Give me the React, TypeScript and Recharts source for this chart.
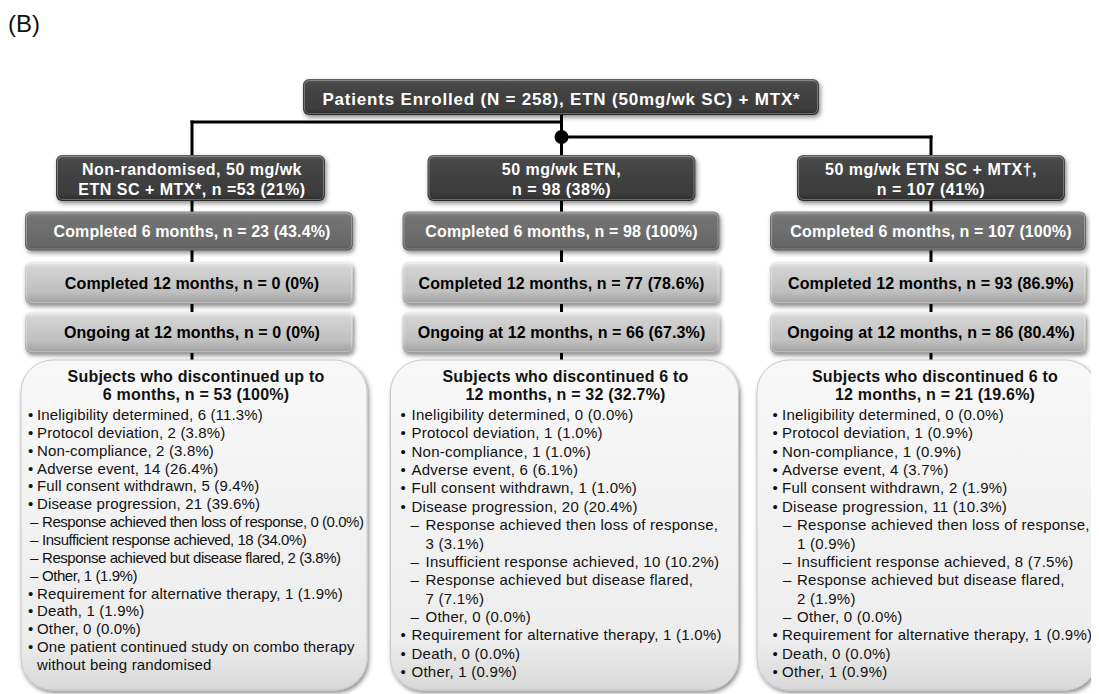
import React from 'react';
import { ScatterChart, Scatter, XAxis, YAxis, ReferenceLine, ReferenceDot } from 'recharts';

const FONT = '"Liberation Sans", Arial, Helvetica, sans-serif';

// ---- data ----
const COLUMNS = [0, 1, 2];

const ENROLLED_N = 258;

const ARM_TITLE = [
  ['Non-randomised, 50 mg/wk', 'ETN SC + MTX*, n ='],
  ['50 mg/wk ETN,', 'n = '],
  ['50 mg/wk ETN SC + MTX†,', 'n = '],
];
const ARM_N = [53, 98, 107];
const ARM_PCT = ['21', '38', '41'];

const COMPLETED6_N = [23, 98, 107];
const COMPLETED6_PCT = ['43.4', '100', '100'];

const COMPLETED12_N = [0, 77, 93];
const COMPLETED12_PCT = ['0', '78.6', '86.9'];

const ONGOING_N = [0, 66, 86];
const ONGOING_PCT = ['0', '67.3', '80.4'];

const DISC_WINDOW = [['up to', '6 months'], ['6 to', '12 months'], ['6 to', '12 months']];
const DISC_N = [53, 32, 21];
const DISC_PCT = ['100', '32.7', '19.6'];

const REASONS = [
  'Ineligibility determined',
  'Protocol deviation',
  'Non-compliance',
  'Adverse event',
  'Full consent withdrawn',
  'Disease progression',
  'Requirement for alternative therapy',
  'Death',
  'Other',
];
const REASON_N = [
  [6, 2, 2, 14, 5, 21, 1, 1, 0],
  [0, 1, 1, 6, 1, 20, 1, 0, 1],
  [0, 1, 1, 4, 2, 11, 1, 0, 1],
];
const REASON_PCT = [
  ['11.3', '3.8', '3.8', '26.4', '9.4', '39.6', '1.9', '1.9', '0.0'],
  ['0.0', '1.0', '1.0', '6.1', '1.0', '20.4', '1.0', '0.0', '0.9'],
  ['0.0', '0.9', '0.9', '3.7', '1.9', '10.3', '0.9', '0.0', '0.9'],
];

const SUB_REASONS = [
  'Response achieved then loss of response',
  'Insufficient response achieved',
  'Response achieved but disease flared',
  'Other',
];
const SUB_N = [
  [0, 18, 2, 1],
  [3, 10, 7, 0],
  [1, 8, 2, 0],
];
const SUB_PCT = [
  ['0.0', '34.0', '3.8', '1.9'],
  ['3.1', '10.2', '7.1', '0.0'],
  ['0.9', '7.5', '1.9', '0.0'],
];

const NOTES = [['One patient continued study on combo therapy', 'without being randomised'], [], []];

// ---- layout ----
const W = 1091;
const H = 686;
const STEP_PX = 51.5;
const MARGIN = { top: 170, right: 168, bottom: H - 170 - 3 * STEP_PX, left: 184 };

const ROW_X = [[-167, 161], [-159, 158], [-161, 155]];
const HEAD_X = [[-136, 133], [-134, 134], [-134, 134]];
const SUBJ_X = [[-171, 175], [-171, 177], [-174, 166]];
const VLINE_TOP = [-56, -63, -41];
const VLINE_BOTTOM = 182;
const BUS_LEFT = -56 / STEP_PX;
const BUS_RIGHT = -41 / STEP_PX;

const BULLET_DX = [-164, -161, -158.5];
const TEXT_DX = [-155, -150, -149];
const DASH_DX = [-162, -151, -148];
const SUB_DX = [-150, -136, -134];
const LINE_H = [17.86, 18.36, 18.36];
const ITEM_SPACING = [0.15, 0.25, 0.25];
const WRAP_SUBS = [false, true, true];

const pct = (n: number, p: string) => `${n} (${p}%)`;

type Line = { kind: 'bullet' | 'cont' | 'dash' | 'subcont'; text: string };

function reasonLines(c: number): Line[] {
  const out: Line[] = [];
  REASONS.forEach((r, i) => {
    out.push({ kind: 'bullet', text: `${r}, ${pct(REASON_N[c][i], REASON_PCT[c][i])}` });
    if (i === 5) {
      SUB_REASONS.forEach((s, j) => {
        const v = pct(SUB_N[c][j], SUB_PCT[c][j]);
        if (WRAP_SUBS[c] && s.length > 32) {
          out.push({ kind: 'dash', text: `${s},` });
          out.push({ kind: 'subcont', text: v });
        } else {
          out.push({ kind: 'dash', text: `${s}, ${v}` });
        }
      });
    }
  });
  NOTES[c].forEach((t, k) => out.push({ kind: k === 0 ? 'bullet' : 'cont', text: t }));
  return out;
}

const enrolledData = [{ col: 1, step: 0 }];
const armData = COLUMNS.map((c) => ({ col: c, step: 0 }));
const completed6Data = COLUMNS.map((c) => ({ col: c, step: 1, label: `Completed 6 months, n = ${pct(COMPLETED6_N[c], COMPLETED6_PCT[c])}` }));
const completed12Data = COLUMNS.map((c) => ({ col: c, step: 2, label: `Completed 12 months, n = ${pct(COMPLETED12_N[c], COMPLETED12_PCT[c])}` }));
const ongoingData = COLUMNS.map((c) => ({ col: c, step: 3, label: `Ongoing at 12 months, n = ${pct(ONGOING_N[c], ONGOING_PCT[c])}` }));
const discData = COLUMNS.map((c) => ({ col: c, step: 3 }));

const Defs = () => (
  <defs>
    <linearGradient id="gDark" x1="0" y1="0" x2="0" y2="1">
      <stop offset="0" stopColor="#606060" />
      <stop offset="0.12" stopColor="#474747" />
      <stop offset="0.85" stopColor="#3b3b3b" />
      <stop offset="1" stopColor="#2a2a2a" />
    </linearGradient>
    <linearGradient id="gMid" x1="0" y1="0" x2="0" y2="1">
      <stop offset="0" stopColor="#8e8e8e" />
      <stop offset="0.14" stopColor="#747474" />
      <stop offset="0.85" stopColor="#686868" />
      <stop offset="1" stopColor="#525252" />
    </linearGradient>
    <linearGradient id="gLight" x1="0" y1="0" x2="0" y2="1">
      <stop offset="0" stopColor="#ececec" />
      <stop offset="0.15" stopColor="#d2d2d2" />
      <stop offset="0.7" stopColor="#c0c0c0" />
      <stop offset="1" stopColor="#9e9e9e" />
    </linearGradient>
    <linearGradient id="gSubj" x1="0" y1="0" x2="0" y2="1">
      <stop offset="0" stopColor="#f8f8f8" />
      <stop offset="0.85" stopColor="#ededed" />
      <stop offset="1" stopColor="#d8d8d8" />
    </linearGradient>
    <filter id="shadow" x="-5%" y="-10%" width="112%" height="130%">
      <feDropShadow dx="1.5" dy="2.5" stdDeviation="2" floodColor="#000" floodOpacity="0.45" />
    </filter>
  </defs>
);

function Box({ x, y, w, h, fill, rx = 6 }: any) {
  return (
    <g>
      <rect x={x} y={y} width={w} height={h} rx={rx} fill={fill} filter="url(#shadow)" />
      <rect x={x + 1.5} y={y + 1.5} width={w - 3} height={h - 3} rx={rx - 1} fill="none" stroke="rgba(255,255,255,0.28)" strokeWidth={1} />
    </g>
  );
}

const EnrolledShape = (props: any) => {
  const { cx, cy } = props;
  return (
    <g>
      <Defs />
      <Box x={cx - 258.5} y={cy - 99} w={516} h={36} fill="url(#gDark)" />
      <text x={cx} y={cy - 73} textAnchor="middle" fill="#fff" fontWeight="bold" fontSize={17} letterSpacing={0.8} fontFamily={FONT}>
        {`Patients Enrolled (N = ${ENROLLED_N}), ETN (50mg/wk SC) + MTX*`}
      </text>
    </g>
  );
};

const ArmShape = (props: any) => {
  const { cx, cy, payload } = props;
  const c = payload.col;
  const [l, r] = HEAD_X[c];
  const [t1, t2] = ARM_TITLE[c];
  return (
    <g>
      <line x1={cx} x2={cx} y1={cy + VLINE_TOP[c]} y2={cy + VLINE_BOTTOM} stroke="#000" strokeWidth={3} strokeLinecap="square" />
      <Box x={cx + l} y={cy - 23} w={r - l} h={46} fill="url(#gDark)" />
      <text textAnchor="middle" fill="#fff" fontWeight="bold" fontSize={16} letterSpacing={0.5} fontFamily={FONT}>
        <tspan x={cx} y={cy - 3.5}>{t1}</tspan>
        <tspan x={cx} y={cy + 16.5}>{`${t2}${ARM_N[c]} (${ARM_PCT[c]}%)`}</tspan>
      </text>
    </g>
  );
};

const rowShape = (fill: string, color: string, top: number, bottom: number) => (props: any) => {
  const { cx, cy, payload } = props;
  const c = payload.col;
  const [l, r] = ROW_X[c];
  const mid = cy + (top + bottom) / 2;
  return (
    <g>
      <Box x={cx + l} y={cy + top} w={r - l} h={bottom - top} fill={fill} />
      <text x={cx} y={mid + 5.8} textAnchor="middle" fill={color} fontWeight="bold" fontSize={16} letterSpacing={0.1} fontFamily={FONT}>
        {payload.label}
      </text>
    </g>
  );
};

const Completed6Shape = rowShape('url(#gMid)', '#fff', -18, 21);
const Completed12Shape = rowShape('url(#gLight)', '#000', -19, 23);
const OngoingShape = rowShape('url(#gLight)', '#000', -20.5, 20.5);

const DiscShape = (props: any) => {
  const { cx, cy, payload } = props;
  const c = payload.col;
  const [l, r] = SUBJ_X[c];
  const top = cy + 27.5;
  const bottom = cy + 357.5;
  const lines = reasonLines(c);
  const condensed = !WRAP_SUBS[c];
  const ls = ITEM_SPACING[c];
  return (
    <g fontFamily={FONT}>
      <rect x={cx + l} y={top} width={r - l} height={bottom - top} rx={32} fill="url(#gSubj)" stroke="#c9c9c9" strokeWidth={1} filter="url(#shadow)" />
      <text textAnchor="middle" fill="#111" fontWeight="bold" fontSize={16} letterSpacing={0.2}>
        <tspan x={cx + 4} y={top + 22}>{`Subjects who discontinued ${DISC_WINDOW[c][0]}`}</tspan>
        <tspan x={cx + 4} y={top + 40}>{`${DISC_WINDOW[c][1]}, n = ${pct(DISC_N[c], DISC_PCT[c])}`}</tspan>
      </text>
      {lines.map((ln, i) => {
        const y = top + 60 + i * LINE_H[c];
        if (ln.kind === 'bullet' || ln.kind === 'cont') {
          return (
            <g key={i}>
              {ln.kind === 'bullet' && (
                <text x={cx + BULLET_DX[c]} y={y} fontSize={15} fill="#111">•</text>
              )}
              <text x={cx + TEXT_DX[c]} y={y} fontSize={15} fill="#111" letterSpacing={ls}>{ln.text}</text>
            </g>
          );
        }
        return (
          <g key={i}>
            {ln.kind === 'dash' && (
              <text x={cx + DASH_DX[c]} y={y} fontSize={15} fill="#111">–</text>
            )}
            <text x={cx + SUB_DX[c]} y={y} fontSize={15} fill="#111" letterSpacing={condensed ? -0.45 : ls}>
              {ln.text}
            </text>
          </g>
        );
      })}
    </g>
  );
};

export default function App() {
  return (
    <div style={{ position: 'relative', width: W, height: H, fontFamily: FONT }}>
      <div style={{ position: 'absolute', left: 0, top: 3.5, fontSize: 24, lineHeight: '24px', color: '#111' }}>(B)</div>
      <ScatterChart width={W} height={H} margin={MARGIN}>
        <XAxis type="number" dataKey="col" domain={[0, 2]} hide />
        <YAxis type="number" dataKey="step" domain={[0, 3]} reversed hide />
        <ReferenceLine
          segment={[{ x: 0, y: BUS_LEFT }, { x: 1, y: BUS_LEFT }]}
          stroke="#000"
          strokeWidth={3}
          strokeLinecap="square"
          ifOverflow="visible"
        />
        <ReferenceLine
          segment={[{ x: 1, y: BUS_RIGHT }, { x: 2, y: BUS_RIGHT }]}
          stroke="#000"
          strokeWidth={3}
          strokeLinecap="square"
          ifOverflow="visible"
        />
        <Scatter data={armData} shape={ArmShape} isAnimationActive={false} />
        <Scatter data={enrolledData} shape={EnrolledShape} isAnimationActive={false} />
        <Scatter data={completed6Data} shape={Completed6Shape} isAnimationActive={false} />
        <Scatter data={completed12Data} shape={Completed12Shape} isAnimationActive={false} />
        <Scatter data={ongoingData} shape={OngoingShape} isAnimationActive={false} />
        <Scatter data={discData} shape={DiscShape} isAnimationActive={false} />
        <ReferenceDot x={1} y={BUS_RIGHT} r={7} fill="#000" stroke="none" ifOverflow="visible" />
      </ScatterChart>
    </div>
  );
}
